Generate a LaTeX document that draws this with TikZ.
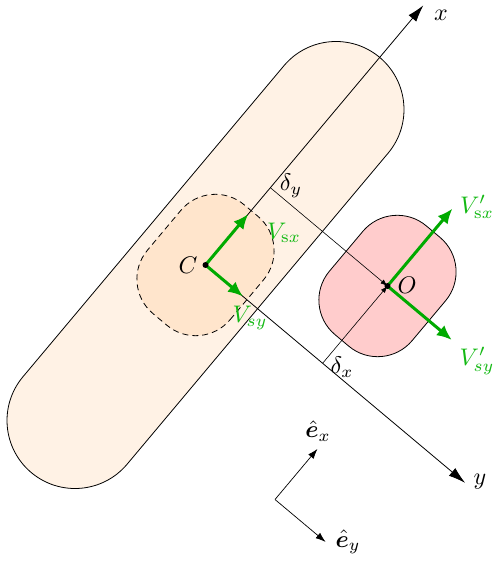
\documentclass[tikz,border=0pt]{standalone}
\usepackage{bm}
\usetikzlibrary{arrows.meta,calc}
\definecolor{vgreen}{RGB}{0,170,0}
\definecolor{lgreen}{RGB}{20,185,20}
\begin{document}
\begin{tikzpicture}[x=1pt,y=1pt,
  outline/.style={line width=0.8pt},
  axisline/.style={line width=0.8pt,-{Latex[length=17pt,width=10pt]}},
  deltaline/.style={line width=0.6pt,-{Latex[length=7pt,width=5pt]}},
  vecarrow/.style={vgreen,line width=3pt,-{Latex[length=15pt,width=13pt]}},
  basisarrow/.style={line width=0.7pt,-{Latex[length=10pt,width=7pt]}},
  lbl/.style={inner sep=0pt,scale=2.4},
  glbl/.style={lbl,text=lgreen},
  dotmark/.style={circle,fill=black,inner sep=0pt,minimum size=6pt}]
\useasboundingbox (0,0) rectangle (494,563);
\coordinate (C) at (205.5,298);
\coordinate (fx) at ($(C)+(50:100.9)$);
\coordinate (fy) at ($(C)+(-40:152.9)$);
\coordinate (O) at ($(fx)+(-40:152.9)$);
\coordinate (xt) at ($(C)+(50:339)$);
\coordinate (yt) at ($(C)+(-40:339)$);
\coordinate (vsx) at ($(C)+(50:66.5)$);
\coordinate (vsy) at ($(C)+(-40:49)$);
\coordinate (vpsx) at ($(O)+(50:101)$);
\coordinate (vpsy) at ($(O)+(-40:84)$);
\coordinate (e0) at (275,63.5);
\coordinate (ex) at ($(e0)+(50:66)$);
\coordinate (ey) at ($(e0)+(-40:66)$);
% capsule and sensor footprint at C
\begin{scope}[shift={(C)},rotate=50]
  \filldraw[fill=orange!10,outline] (-203,68) -- (203,68)
    arc[start angle=90,end angle=-90,radius=68] -- (-203,-68)
    arc[start angle=270,end angle=90,radius=68] -- cycle;
  \filldraw[fill=orange!20,outline,dash pattern=on 6pt off 4pt]
    (-26,-54) -- (26,-54) arc[start angle=-90,end angle=0,radius=45]
    -- (71,9) arc[start angle=0,end angle=90,radius=45]
    -- (-26,54) arc[start angle=90,end angle=180,radius=45]
    -- (-71,-9) arc[start angle=180,end angle=270,radius=45] -- cycle;
\end{scope}
% sensor at O
\begin{scope}[shift={(O)},rotate=50]
  \filldraw[fill=red!20,outline]
    (-26,-54) -- (26,-54) arc[start angle=-90,end angle=0,radius=45]
    -- (71,9) arc[start angle=0,end angle=90,radius=45]
    -- (-26,54) arc[start angle=90,end angle=180,radius=45]
    -- (-71,-9) arc[start angle=180,end angle=270,radius=45] -- cycle;
\end{scope}
% axes
\draw[axisline] (C) -- (xt);
\draw[axisline] (C) -- (yt);
% offsets
\draw[deltaline] (fx) -- (O);
\draw[deltaline] (fy) -- (O);
% vectors
\draw[vecarrow] (C) -- (vsx);
\draw[vecarrow] (C) -- (vsy);
\draw[vecarrow] (O) -- (vpsx);
\draw[vecarrow] (O) -- (vpsy);
% basis
\draw[basisarrow] (e0) -- (ex);
\draw[basisarrow] (e0) -- (ey);
% dots
\node[dotmark] (Cdot) at (C) {};
\node[dotmark] (Odot) at (O) {};
% labels
\node[lbl] (xl) at (441,548) {$x$};
\node[lbl] (yl) at (480,81) {$y$};
\node[lbl] (Cl) at (188,298) {$C$};
\node[lbl] (Ol) at (407,278) {$O$};
\node[lbl] (dyl) at (291,377) {$\delta_y$};
\node[lbl] (dxl) at (342,196) {$\delta_x$};
\node[glbl] (vsxl) at (284,330) {$V_{\mathrm{s}x}$};
\node[glbl] (vsyl) at (250,245) {$V_{sy}$};
\node[glbl] (vpsxl) at (477,356) {$V'_{\mathrm{s}x}$};
\node[glbl] (vpsyl) at (477,202) {$V'_{sy}$};
\node[lbl] (exl) at (318,132) {$\hat{\bm e}_x$};
\node[lbl] (eyl) at (348,21) {$\hat{\bm e}_y$};
\end{tikzpicture}
\end{document}
